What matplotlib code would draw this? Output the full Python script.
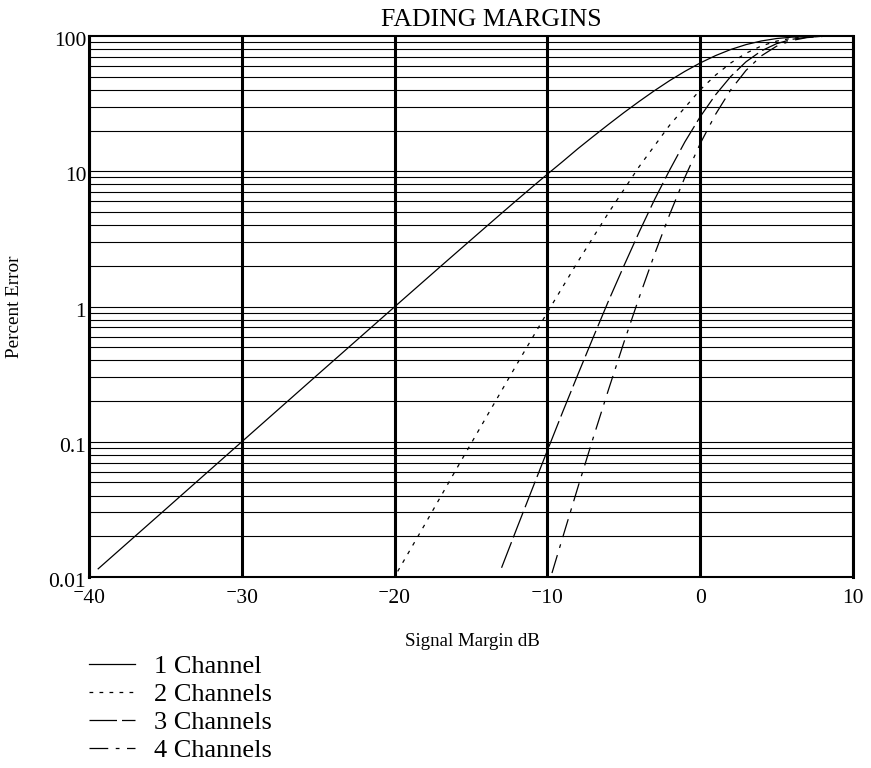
import matplotlib
matplotlib.use("Agg")
import matplotlib.pyplot as plt
from matplotlib.transforms import ScaledTranslation

plt.rcParams['font.family'] = ['Liberation Serif', 'DejaVu Serif']

# values (percent error vs signal margin in dB)
x1 = [-39.4, -35, -30, -25, -20, -17, -15, -13, -12, -11, -10, -9, -8, -7, -6, -5,
      -4, -3, -2, -1, 0, 1, 2, 3, 4, 5, 6, 7, 8]
y1 = [0.0115, 0.0316, 0.1, 0.316, 0.995, 1.975, 3.11, 4.89, 6.12, 7.64, 9.52, 11.8,
      14.7, 18.1, 22.2, 27.1, 32.8, 39.4, 46.8, 54.8, 63.2, 71.6, 79.5, 86.4, 91.9,
      95.8, 98.1, 99.3, 99.8]

x2 = [-19.8, -18, -16, -14, -12, -10, -8, -6, -4, -2, 0, 1, 2, 3, 4, 5, 6, 7, 8]
y2 = [0.011, 0.0247, 0.0616, 0.152, 0.374, 0.906, 2.15, 4.93, 10.8, 21.9, 40.0,
      51.3, 63.2, 74.6, 84.4, 91.7, 96.3, 98.7, 99.6]

x3 = [-13, -12, -11, -10, -9, -8, -7, -6, -5, -4, -3, -2, -1, 0, 1, 2, 3, 4, 5,
      6, 7, 8]
y3 = [0.0117, 0.0229, 0.0445, 0.0862, 0.166, 0.315, 0.592, 1.10, 1.99, 3.54, 6.13,
      10.2, 16.5, 25.3, 36.7, 50.2, 64.5, 77.6, 87.8, 94.5, 98.0, 99.5]

x4 = [-9.7, -9, -8, -7, -6, -5, -4, -3, -2, -1, 0, 1, 2, 3, 4, 5, 6, 7, 8]
y4 = [0.0107, 0.0196, 0.0462, 0.107, 0.243, 0.540, 1.16, 2.41, 4.79, 9.03, 16.0,
      26.3, 40.0, 55.7, 71.3, 84.1, 92.7, 97.4, 99.3]

labels = ["1 Channel", "2 Channels", "3 Channels", "4 Channels"]
x_ticks = [-40, -30, -20, -10, 0, 10]
y_ticks = [0.01, 0.1, 1, 10, 100]
y_tick_labels = ["0.01", "0.1", "1", "10", "100"]

fig = plt.figure(figsize=(8.71, 7.68), dpi=100)
ax = fig.add_axes([0.1022, 0.2487, 0.8771, 0.7044])

ax.set_yscale("log")
ax.set_xlim(-40, 10)
ax.set_ylim(0.01, 100)

# horizontal grid at every 1..9 of each decade
for dec in [0.01, 0.1, 1, 10]:
    for k in range(1, 10):
        ax.axhline(dec * k, color="black", lw=0.8, zorder=1)
for xv in x_ticks:
    ax.axvline(xv, color="black", lw=2.2, zorder=1)

ax.plot(x1, y1, color="black", lw=0.9, label=labels[0], zorder=3)
ax.plot(x2, y2, color="black", lw=0.9, dashes=(3, 5), label=labels[1], zorder=3)
ax.plot(x3, y3, color="black", lw=0.9, dashes=(22, 4), label=labels[2], zorder=3)
ax.plot(x4, y4, color="black", lw=0.9, dashes=(15, 6, 3, 6), label=labels[3], zorder=3)

ax.set_xticks(x_ticks)
ax.set_xticklabels([("\u207b" + str(-v)) if v < 0 else str(v) for v in x_ticks])
ax.set_yticks(y_ticks)
ax.set_yticklabels(y_tick_labels)
ax.minorticks_off()
ax.tick_params(length=0, labelsize=15.5)
ax.tick_params(axis="x", pad=9)
ax.tick_params(axis="y", pad=2)
# y labels sit a little below their lines in the original
shift = ScaledTranslation(0, -3 / 100, fig.dpi_scale_trans)
for lab in ax.get_yticklabels():
    lab.set_transform(lab.get_transform() + shift)

for s in ax.spines.values():
    s.set_linewidth(1.5)
ax.spines["left"].set_linewidth(2.2)
ax.spines["right"].set_linewidth(2.2)

fig.text(491 / 871, 1 - 20 / 768, "FADING MARGINS", ha="center", va="center", fontsize=18.5)
fig.text(15 / 871, 1 - 307 / 768, "Percent Error", ha="center", va="center",
         rotation=90, fontsize=13.8)
fig.text(472 / 871, 1 - 641 / 768, "Signal Margin dB", ha="center", va="center",
         fontsize=13.6)

ax.legend(loc="upper left", bbox_to_anchor=(89 / 871, 1 - 655 / 768),
          bbox_transform=fig.transFigure, frameon=False, fontsize=19,
          handlelength=1.75, handletextpad=0.7, labelspacing=0.17,
          borderaxespad=0, borderpad=0)

plt.savefig("out.png", dpi=100)
